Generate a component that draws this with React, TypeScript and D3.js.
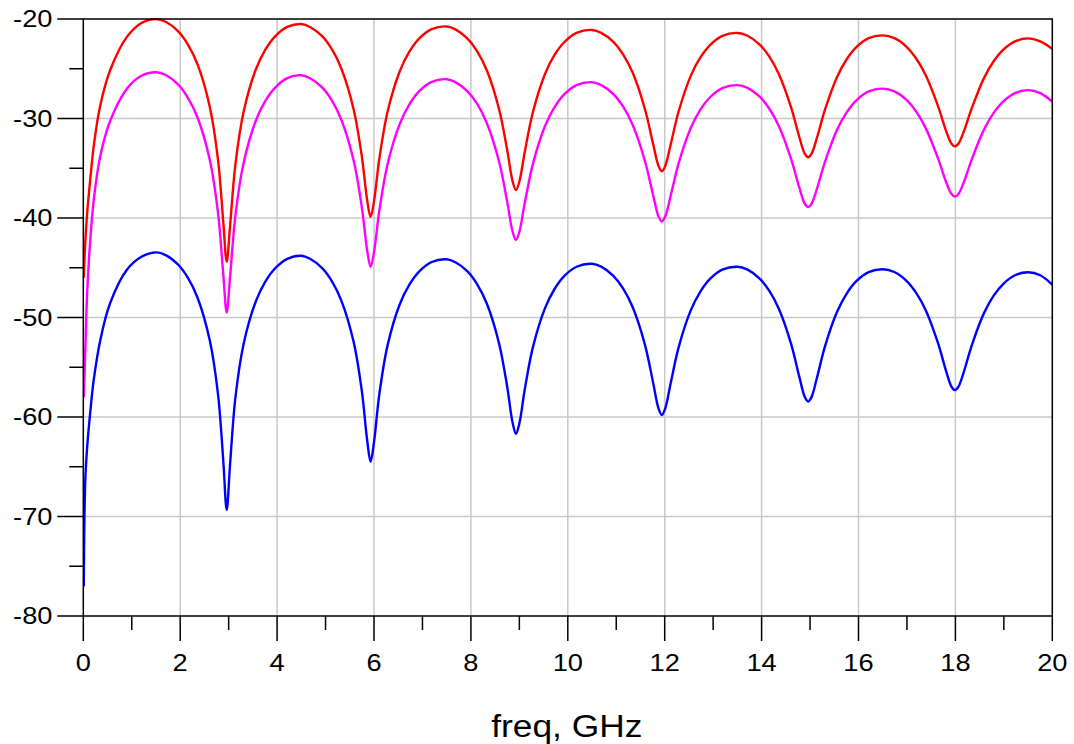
import React from "react";
import * as d3 from "d3";

// frequency points (GHz), shared by all three traces
const freq = [
  0.01, 0.04, 0.08, 0.14, 0.22, 0.35, 0.55, 0.9, 1.2, 1.5,
  1.71, 1.96, 2.16, 2.36, 2.61, 2.78, 2.89, 2.96, 3.03, 3.14, 3.31, 3.56, 3.76, 3.96, 4.21, 4.5,
  4.68, 4.93, 5.13, 5.33, 5.58, 5.75, 5.86, 5.93, 6.0, 6.11, 6.28, 6.53, 6.73, 6.93, 7.18, 7.5,
  7.68, 7.93, 8.13, 8.33, 8.58, 8.75, 8.86, 8.93, 9.0, 9.11, 9.28, 9.53, 9.73, 9.93, 10.18, 10.5,
  10.69, 10.94, 11.14, 11.34, 11.59, 11.76, 11.87, 11.94, 12.01, 12.12, 12.29, 12.54, 12.74, 12.94, 13.19, 13.5,
  13.71, 13.96, 14.16, 14.36, 14.61, 14.78, 14.89, 14.96, 15.03, 15.14, 15.31, 15.56, 15.76, 15.96, 16.21, 16.5,
  16.74, 16.99, 17.19, 17.39, 17.64, 17.81, 17.92, 17.99, 18.06, 18.17, 18.34, 18.59, 18.79, 18.99, 19.24, 19.5,
  19.75, 20.0,
];

const redTrace = [
  -46.0, -42.5, -39.5, -36.3, -32.6, -28.7, -25.2, -21.8, -20.4, -20.0,
  -20.3, -21.24, -22.57, -24.59, -28.81, -34.13, -40.47, -44.4, -40.76, -34.58, -29.3, -25.08, -23.06, -21.74, -20.8, -20.5,
  -20.8, -21.73, -23.04, -25.02, -29.09, -33.85, -38.25, -39.9, -38.33, -34.04, -29.32, -25.27, -23.29, -21.98, -21.05, -20.75,
  -21.04, -21.97, -23.25, -25.18, -29.04, -33.19, -36.3, -37.2, -36.36, -33.41, -29.35, -25.52, -23.59, -22.31, -21.39, -21.1,
  -21.39, -22.29, -23.55, -25.41, -29.02, -32.54, -34.75, -35.3, -34.78, -32.68, -29.25, -25.69, -23.84, -22.59, -21.69, -21.4,
  -21.68, -22.57, -23.79, -25.58, -28.91, -31.89, -33.53, -33.9, -33.55, -31.98, -29.09, -25.8, -24.02, -22.81, -21.93, -21.65,
  -21.93, -22.79, -23.97, -25.68, -28.74, -31.27, -32.53, -32.8, -32.55, -31.36, -28.94, -25.94, -24.25, -23.08, -22.23, -21.95,
  -22.25, -23.0,
];

const magentaTrace = [
  -58.0, -53.5, -47.5, -42.5, -38.0, -33.8, -30.3, -27.0, -25.7, -25.35,
  -25.65, -26.59, -27.92, -29.93, -34.15, -39.46, -45.72, -49.5, -45.89, -39.73, -34.44, -30.23, -28.21, -26.89, -25.95, -25.65,
  -25.95, -26.88, -28.19, -30.17, -34.23, -38.97, -43.3, -44.9, -43.42, -39.27, -34.6, -30.56, -28.58, -27.28, -26.35, -26.05,
  -26.34, -27.27, -28.54, -30.47, -34.3, -38.38, -41.35, -42.2, -41.4, -38.55, -34.56, -30.76, -28.84, -27.56, -26.64, -26.35,
  -26.64, -27.54, -28.79, -30.65, -34.23, -37.68, -39.82, -40.35, -39.86, -37.83, -34.46, -30.93, -29.08, -27.84, -26.94, -26.65,
  -26.93, -27.81, -29.02, -30.8, -34.09, -36.98, -38.55, -38.9, -38.58, -37.11, -34.34, -31.11, -29.36, -28.16, -27.28, -27.0,
  -27.28, -28.13, -29.3, -30.99, -33.99, -36.41, -37.6, -37.85, -37.61, -36.46, -34.08, -31.12, -29.44, -28.28, -27.43, -27.15,
  -27.45, -28.3,
];

const blueTrace = [
  -77.0, -66.5, -63.0, -59.7, -56.1, -52.3, -48.6, -45.2, -43.9, -43.45,
  -43.75, -44.7, -46.02, -48.04, -52.29, -57.7, -64.46, -69.35, -64.7, -58.02, -52.63, -48.39, -46.37, -45.05, -44.1, -43.8,
  -44.1, -45.04, -46.35, -48.35, -52.47, -57.43, -62.39, -64.5, -62.53, -57.71, -52.8, -48.69, -46.7, -45.39, -44.45, -44.15,
  -44.45, -45.37, -46.67, -48.62, -52.58, -56.98, -60.56, -61.7, -60.66, -57.28, -52.98, -49.06, -47.11, -45.82, -44.9, -44.6,
  -44.89, -45.81, -47.07, -48.97, -52.7, -56.52, -59.11, -59.8, -59.15, -56.68, -52.95, -49.26, -47.37, -46.1, -45.19, -44.9,
  -45.19, -46.09, -47.33, -49.17, -52.68, -55.99, -57.97, -58.45, -58.0, -56.11, -52.87, -49.4, -47.57, -46.33, -45.44, -45.15,
  -45.43, -46.31, -47.52, -49.29, -52.56, -55.42, -56.96, -57.3, -56.98, -55.53, -52.77, -49.56, -47.8, -46.61, -45.73, -45.45,
  -45.75, -46.7,
];

const xTicks = [0, 2, 4, 6, 8, 10, 12, 14, 16, 18, 20];
const xMinor = [1, 3, 5, 7, 9, 11, 13, 15, 17, 19];
const yTicks = [-80, -70, -60, -50, -40, -30, -20];
const yMinor = [-75, -65, -55, -45, -35, -25];
const xTitle = "freq, GHz";

const traces = [
  { name: "blue", values: blueTrace, color: "#0000ff" },
  { name: "magenta", values: magentaTrace, color: "#ff00ff" },
  { name: "red", values: redTrace, color: "#ff0000" },
];

const W = 1074;
const H = 744;
const left = 83.3;
const right = 1052.3;
const top = 19;
const bottom = 616;

const font = "'Liberation Sans', Arial, sans-serif";

export default function App() {
  const x = d3.scaleLinear().domain([0, 20]).range([left, right]);
  const y = d3.scaleLinear().domain([-80, -20]).range([bottom, top]);

  const line = d3
    .line<number>()
    .x((_, i) => x(freq[i]))
    .y((d) => y(d))
    .curve(d3.curveCatmullRom.alpha(0.5));

  return (
    <svg
      width={W}
      height={H}
      style={{ position: "absolute", left: 0, top: 0, background: "#fff" }}
    >
      <defs>
        <clipPath id="plot">
          <rect x={left} y={top - 1} width={right - left} height={bottom - top + 1} />
        </clipPath>
      </defs>

      {/* grid */}
      {xTicks.slice(1, -1).map((t) => (
        <line key={"gx" + t} x1={x(t)} x2={x(t)} y1={top} y2={bottom}
          stroke="#c8c8c8" strokeWidth={1.5} />
      ))}
      {yTicks.slice(1, -1).map((t) => (
        <line key={"gy" + t} x1={left} x2={right} y1={y(t)} y2={y(t)}
          stroke="#c8c8c8" strokeWidth={1.5} />
      ))}

      {/* traces */}
      <g clipPath="url(#plot)">
        {traces.map((s) => (
          <path key={s.name} d={line(s.values) || ""} fill="none"
            stroke={s.color} strokeWidth={2.4} strokeLinejoin="round" />
        ))}
      </g>

      {/* frame */}
      <rect x={left} y={top} width={right - left} height={bottom - top}
        fill="none" stroke="#000" strokeWidth={1.5} />

      {/* x ticks */}
      {xTicks.map((t) => (
        <g key={"xt" + t}>
          <line x1={x(t)} x2={x(t)} y1={bottom} y2={bottom + 25} stroke="#000" strokeWidth={1.5} />
          <text transform={`translate(${x(t)},671) scale(1.17,1)`} textAnchor="middle"
            fontFamily={font} fontSize={23.3} fill="#000">{t}</text>
        </g>
      ))}
      {xMinor.map((t) => (
        <line key={"xm" + t} x1={x(t)} x2={x(t)} y1={bottom} y2={bottom + 14} stroke="#000" strokeWidth={1.5} />
      ))}

      {/* y ticks */}
      {yTicks.map((t) => (
        <g key={"yt" + t}>
          <line x1={left - 26} x2={left} y1={y(t)} y2={y(t)} stroke="#000" strokeWidth={1.5} />
          <text transform={`translate(52.5,${y(t) + 8.3}) scale(1.17,1)`} textAnchor="end"
            fontFamily={font} fontSize={23.3} fill="#000">{t}</text>
        </g>
      ))}
      {yMinor.map((t) => (
        <line key={"ym" + t} x1={left - 14} x2={left} y1={y(t)} y2={y(t)} stroke="#000" strokeWidth={1.5} />
      ))}

      {/* axis title */}
      <text transform={`translate(${(left + right) / 2 - 1},736.7) scale(1.14,1)`} textAnchor="middle"
        fontFamily={font} fontSize={31} fill="#000">{xTitle}</text>
    </svg>
  );
}
